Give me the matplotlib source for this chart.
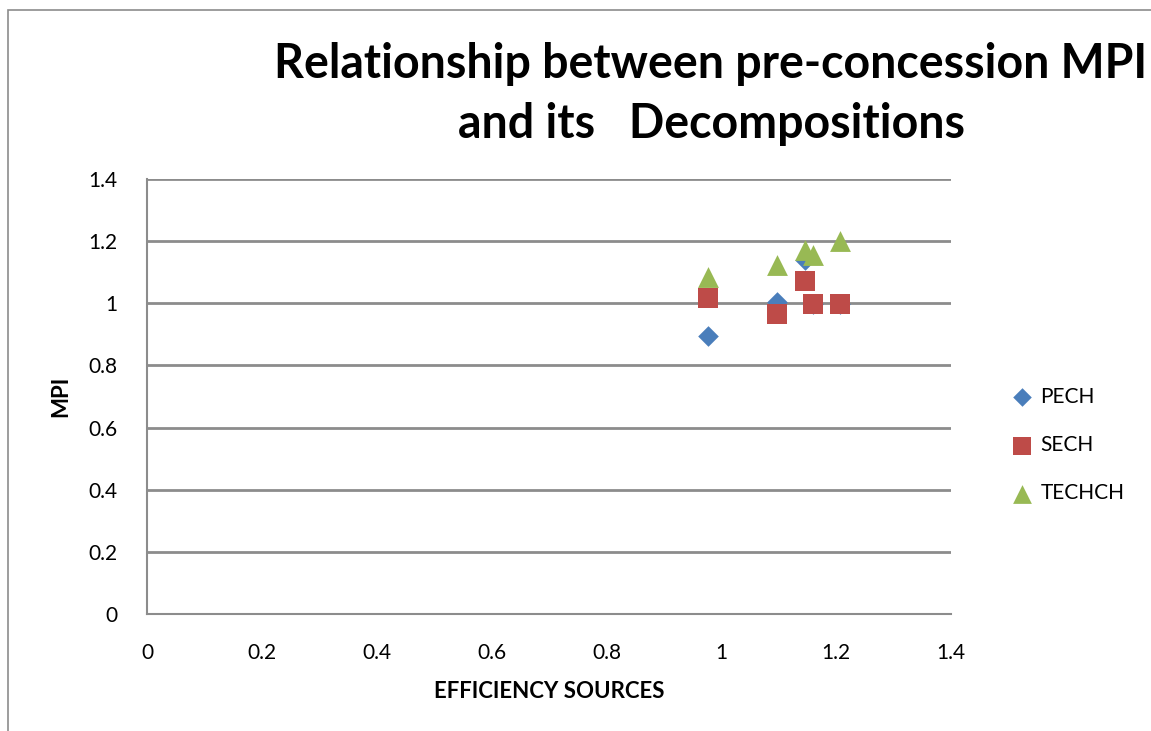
import matplotlib
matplotlib.use("Agg")
import matplotlib.pyplot as plt
from matplotlib.patches import Rectangle

W, H = 1151, 731
plt.rcParams['font.family'] = ['Lato', 'DejaVu Sans']

# Data
x_vals = [0.976, 1.097, 1.145, 1.159, 1.206]
pech = [0.894, 1.003, 1.138, 0.999, 0.999]
sech = [1.017, 0.967, 1.072, 0.999, 0.999]
techch = [1.085, 1.124, 1.173, 1.156, 1.202]
series_names = ["PECH", "SECH", "TECHCH"]
x_ticks = [0, 0.2, 0.4, 0.6, 0.8, 1, 1.2, 1.4]
y_ticks = [0, 0.2, 0.4, 0.6, 0.8, 1, 1.2, 1.4]
title_lines = ["Relationship between pre-concession MPI", "and its   Decompositions"]

fig = plt.figure(figsize=(W / 100, H / 100), dpi=100)

def fx(px):
    return px / W

def fy(py):
    return 1 - py / H

# outer chart border (cropped on right & bottom)
fig.patches.append(Rectangle((fx(8), fy(H + 5)), 2, fy(9.5) - fy(H + 5),
                             transform=fig.transFigure, fill=False,
                             edgecolor='#8c8c8c', linewidth=1.2))

left, right, top, bottom = 147, 951, 179, 614
ax = fig.add_axes([fx(left), fy(bottom), fx(right) - fx(left), fy(top) - fy(bottom)])
ax.set_xlim(0, 1.4)
ax.set_ylim(0, 1.4)
ax.set_xticks(x_ticks)
ax.set_yticks(y_ticks)
ax.set_xticklabels([f"{v:g}" for v in x_ticks])
ax.set_yticklabels([f"{v:g}" for v in y_ticks])
ax.tick_params(axis='both', length=0, labelsize=15, colors='black')
ax.tick_params(axis='y', pad=21)
ax.tick_params(axis='x', pad=21)
for s in ['top', 'right']:
    ax.spines[s].set_visible(False)
for s in ['left', 'bottom']:
    ax.spines[s].set_color('#8c8c8c')
    ax.spines[s].set_linewidth(1.5)
ax.yaxis.grid(True, color='#8c8c8c', linewidth=2)
ax.set_axisbelow(True)

ax.scatter(x_vals, pech, marker='D', s=10.5 ** 2, color='#4a7ebb', label=series_names[0], zorder=3, linewidths=0)
ax.scatter(x_vals, sech, marker='s', s=15 ** 2, color='#be4b48', label=series_names[1], zorder=4, linewidths=0)
ax.scatter(x_vals, techch, marker='^', s=15 ** 2, color='#98b954', label=series_names[2], zorder=5, linewidths=0)

fig.text(fx(549), fy(692), "EFFICIENCY SOURCES", fontsize=16, fontweight='bold', ha='center', va='center')
fig.text(fx(61), fy(396), "MPI", fontsize=16, fontweight='bold', ha='center', va='center', rotation=90)

fig.text(fx(711), fy(64), title_lines[0], fontsize=33.5, fontweight='bold', ha='center', va='center')
fig.text(fx(711), fy(124), title_lines[1], fontsize=33.5, fontweight='bold', ha='center', va='center')

leg = ax.legend(loc='center left', bbox_to_anchor=(fx(1007), fy(445)), bbox_transform=fig.transFigure,
                frameon=False, fontsize=15, handlelength=1.4, handletextpad=0.2, labelspacing=1.35,
                borderaxespad=0, borderpad=0, scatterpoints=1, markerscale=0.9)

fig.savefig("out.png", dpi=100)
